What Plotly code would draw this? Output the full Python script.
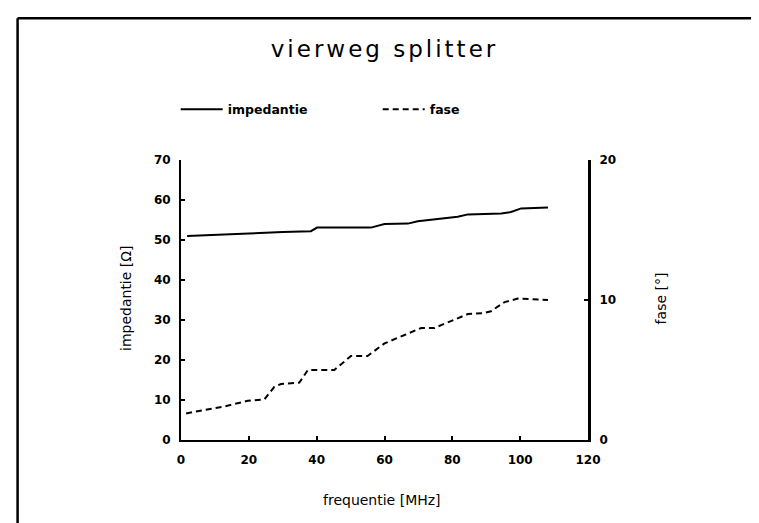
import plotly.graph_objects as go

# ---- data ----
freq_imp = [1.8, 10, 20, 30, 38.3, 40.1, 56, 60, 66.9, 69.8, 81.6, 84.6, 94.4, 97.3, 100.3, 108.2]
impedantie = [51.0, 51.2, 51.6, 52.0, 52.2, 53.1, 53.1, 54.0, 54.1, 54.7, 55.8, 56.4, 56.6, 57.0, 57.9, 58.1]

freq_fase = [1.5, 12.8, 19.7, 24.6, 27.5, 29.5, 34.9, 37.4, 45.2, 50.1, 55, 60, 65.9, 70.8,
             74.7, 79.6, 84.6, 89, 91.4, 95.4, 99.3, 108.2]
fase = [1.9, 2.4, 2.8, 2.9, 3.8, 4.0, 4.1, 5.0, 5.0, 6.0, 6.0, 6.9, 7.5, 8.0,
        8.0, 8.5, 9.0, 9.05, 9.2, 9.85, 10.1, 10.0]

x_ticks = [0, 20, 40, 60, 80, 100, 120]
y_left_ticks = [0, 10, 20, 30, 40, 50, 60, 70]
y_right_ticks = [0, 10, 20]

title_text = "vierweg splitter"
x_title = "frequentie [MHz]"
y_left_title = "impedantie [Ω]"
y_right_title = "fase [°]"

FONT = "DejaVu Sans"

fig = go.Figure()
fig.add_trace(go.Scatter(x=freq_imp, y=impedantie, mode="lines", name="impedantie",
                         line=dict(color="black", width=2), yaxis="y"))
fig.add_trace(go.Scatter(x=freq_fase, y=fase, mode="lines", name="fase",
                         line=dict(color="black", width=2, dash="6px,4px"), yaxis="y2"))

axis_common = dict(showgrid=False, zeroline=False, showline=True, linecolor="black",
                   ticks="inside", ticklen=4, tickwidth=2, tickcolor="black",
                   tickfont=dict(family=FONT, size=12, color="black", weight="bold"))

fig.update_layout(
    width=759, height=523,
    margin=dict(l=173, r=179, t=152, b=91),
    paper_bgcolor="white", plot_bgcolor="white",
    font=dict(family=FONT, color="black"),
    title=dict(text='<span style="letter-spacing:3px">' + title_text + '</span>',
               x=0.5, xref="paper", xanchor="center",
               y=1 - 41 / 523, yref="container", yanchor="middle",
               font=dict(family=FONT, size=23, color="black")),
    xaxis=dict(range=[0, 120], tickvals=x_ticks, linewidth=2, ticklabelstandoff=8, **axis_common),
    yaxis=dict(range=[0, 70], tickvals=y_left_ticks, linewidth=2, ticklabelstandoff=6, **axis_common),
    yaxis2=dict(range=[0, 20], tickvals=y_right_ticks, overlaying="y", side="right",
                linewidth=3, ticklabelstandoff=6, **axis_common),
    showlegend=True,
    legend=dict(orientation="h", x=-0.013, xanchor="left", y=1.18, yanchor="middle",
                font=dict(family=FONT, size=12.5, color="black", weight="bold"),
                itemwidth=42, entrywidth=145, entrywidthmode="pixels",
                bgcolor="rgba(0,0,0,0)", borderwidth=0),
)

annots = [
    dict(text=x_title, x=0.4935, y=-0.214, textangle=0),
    dict(text=y_left_title, x=-0.1335, y=0.506, textangle=-90),
    dict(text=y_right_title, x=1.1795, y=0.506, textangle=-90),
]
for a in annots:
    fig.add_annotation(xref="paper", yref="paper", showarrow=False,
                       xanchor="center", yanchor="middle",
                       font=dict(family=FONT, size=14, color="black"), **a)

# outer frame of the scanned page
fig.add_shape(type="line", xref="paper", yref="paper", x0=-0.4015, x1=-0.4015,
              y0=1.506, y1=-0.35, line=dict(color="black", width=2.5))
fig.add_shape(type="line", xref="paper", yref="paper", x0=-0.4015, x1=1.45,
              y0=1.506, y1=1.506, line=dict(color="black", width=2.5))

fig.write_html("out.html")
